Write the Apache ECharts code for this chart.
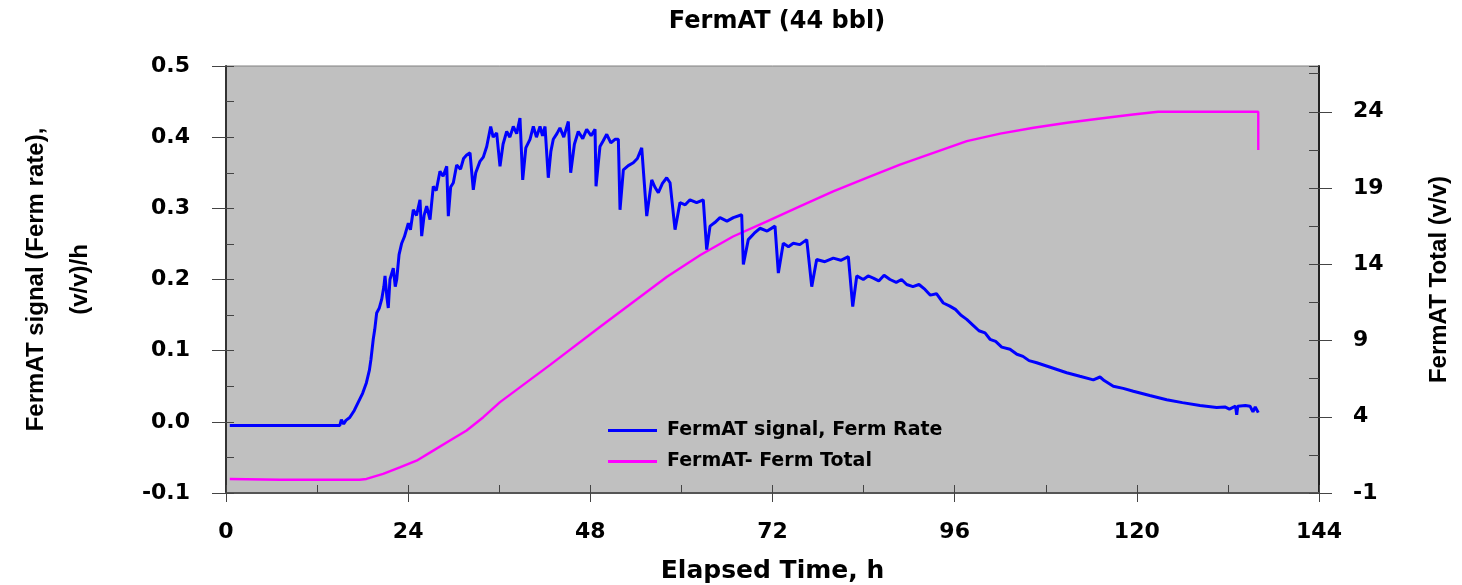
<!DOCTYPE html>
<html>
<head>
<meta charset="utf-8">
<script src="https://cdn.jsdelivr.net/npm/echarts@6/dist/echarts.min.js"></script>
<style>
html,body{margin:0;padding:0;background:#fff;}
#chart{width:1462px;height:585px;}
</style>
</head>
<body>
<div id="chart"></div>
<script>
// ---- Data (hours, value) ----
var chartTitle = 'FermAT (44 bbl)';
var xTitle = 'Elapsed Time, h';
var leftTitle = 'FermAT signal (Ferm rate),\n(v/v)/h';
var rightTitle = 'FermAT Total (v/v)';
var rateName = 'FermAT signal, Ferm Rate';
var totalName = 'FermAT- Ferm Total';

var xTicks = [0, 24, 48, 72, 96, 120, 144];
var leftTicks = [-0.1, 0, 0.1, 0.2, 0.3, 0.4, 0.5];
var rightTicks = [-1, 4, 9, 14, 19, 24];

var fermRate = [
 [0.5,-0.005],[15.0,-0.005],[15.2,0.003],[15.5,-0.003],[15.8,0.002],[16.3,0.006],[16.9,0.016],[17.4,0.027],
 [18.0,0.04],[18.5,0.055],[18.9,0.073],[19.1,0.088],[19.4,0.116],[19.6,0.13],[19.85,0.153],[20.2,0.16],
 [20.51,0.172],[20.8,0.19],[20.95,0.205],[21.2,0.175],[21.38,0.16],[21.6,0.2],[22.04,0.216],[22.3,0.19],
 [22.49,0.2],[22.8,0.235],[23.15,0.251],[23.5,0.26],[24.02,0.279],[24.3,0.27],[24.68,0.298],[25.1,0.29],
 [25.56,0.312],[25.78,0.261],[26.1,0.29],[26.44,0.303],[26.88,0.284],[27.31,0.331],[27.7,0.325],[28.19,0.352],
 [28.6,0.345],[29.08,0.359],[29.29,0.289],[29.6,0.33],[29.95,0.336],[30.39,0.361],[30.9,0.355],[31.3,0.37],
 [31.71,0.375],[32.15,0.378],[32.58,0.326],[32.9,0.35],[33.46,0.366],[33.9,0.372],[34.35,0.387],[34.87,0.415],
 [35.2,0.4],[35.66,0.406],[36.1,0.359],[36.5,0.39],[36.98,0.408],[37.4,0.4],[37.85,0.415],[38.3,0.405],
 [38.73,0.427],[39.09,0.34],[39.5,0.385],[40.05,0.397],[40.49,0.415],[40.9,0.4],[41.37,0.415],[41.7,0.402],
 [42.03,0.415],[42.46,0.343],[42.8,0.38],[43.12,0.397],[43.6,0.405],[44.0,0.413],[44.5,0.4],[45.1,0.422],
 [45.41,0.35],[45.9,0.39],[46.41,0.408],[47.0,0.398],[47.52,0.411],[48.1,0.402],[48.62,0.411],[48.75,0.331],
 [49.27,0.387],[49.7,0.395],[50.16,0.404],[50.7,0.392],[51.25,0.397],[51.69,0.397],[51.91,0.298],[52.35,0.354],
 [53.0,0.36],[53.66,0.364],[54.2,0.37],[54.77,0.385],[55.43,0.289],[56.09,0.34],[56.5,0.33],[56.96,0.322],
 [57.5,0.335],[58.06,0.343],[58.5,0.336],[59.16,0.27],[59.81,0.308],[60.5,0.305],[61.13,0.312],[62.0,0.308],
 [62.88,0.312],[63.33,0.242],[63.77,0.275],[64.4,0.28],[65.08,0.287],[66.0,0.282],[66.84,0.287],[67.94,0.291],
 [68.16,0.221],[68.81,0.256],[69.6,0.265],[70.35,0.272],[71.3,0.268],[72.33,0.275],[72.77,0.209],[73.42,0.251],
 [74.1,0.246],[74.74,0.251],[75.6,0.249],[76.51,0.256],[77.17,0.19],[77.82,0.228],[78.9,0.225],[80.01,0.23],
 [81.0,0.227],[81.99,0.232],[82.57,0.162],[83.1,0.205],[83.96,0.2],[84.6,0.205],[85.28,0.202],[86.0,0.198],
 [86.7,0.206],[87.48,0.2],[88.3,0.196],[89.0,0.2],[89.68,0.193],[90.5,0.19],[91.3,0.193],[92.09,0.186],
 [92.8,0.178],[93.6,0.18],[94.5,0.167],[95.3,0.163],[96.1,0.158],[96.8,0.15],[97.59,0.144],[98.4,0.136],
 [99.2,0.128],[100.0,0.125],[100.66,0.116],[101.4,0.113],[102.2,0.105],[103.29,0.102],[104.2,0.095],[105.0,0.092],
 [105.8,0.086],[106.81,0.083],[108.5,0.077],[110.76,0.069],[112.5,0.064],[114.27,0.059],[115.15,0.063],[115.7,0.058],
 [116.9,0.05],[118.2,0.047],[119.54,0.043],[121.7,0.037],[123.93,0.031],[126.0,0.027],[128.32,0.023],[130.52,0.02],
 [131.6,0.021],[132.2,0.018],[133.0,0.022],[133.16,0.01],[133.3,0.022],[134.3,0.023],[134.91,0.022],[135.3,0.014],
 [135.6,0.021],[136.0,0.013]
];

var fermTotal = [
 [0.5,-0.08],[7.1,-0.13],[17.6,-0.13],[18.5,-0.08],[20.7,0.25],[22.9,0.68],[25.1,1.12],[27.3,1.78],
 [29.5,2.44],[31.7,3.1],[33.9,3.97],[36.1,4.96],[42.7,7.4],[49.3,9.9],[53.7,11.54],[58.1,13.18],
 [62.5,14.61],[66.8,15.82],[71.2,16.8],[75.6,17.79],[80.0,18.78],[84.4,19.66],[88.8,20.53],[93.2,21.3],
 [97.6,22.07],[102.0,22.57],[106.4,22.95],[110.8,23.28],[115.2,23.56],[119.5,23.82],[122.8,24.0],[136.0,24.0],
 [136.0,21.5]
];

// ---- Chart ----
var HFONT = '"DejaVu Sans", "Liberation Sans", Arial, sans-serif';
var VFONT = '"Liberation Sans", Arial, sans-serif';
var chart = echarts.init(document.getElementById('chart'), null, {renderer: 'canvas'});

var xMin = xTicks[0], xMax = xTicks[xTicks.length - 1];
var lMin = leftTicks[0], lMax = leftTicks[leftTicks.length - 1];
var rMin = rightTicks[0], rMax = 27;

function overlayAxis(base) {
  return Object.assign({
    type: 'value',
    axisLine: {show: false, onZero: false},
    axisLabel: {show: false},
    splitLine: {show: false},
    axisTick: {show: true, inside: true, length: 8, lineStyle: {color: '#444', width: 1}}
  }, base);
}

var option = {
  animation: false,
  backgroundColor: '#ffffff',
  title: {
    text: chartTitle,
    left: 772, top: 5, textAlign: 'center',
    textStyle: {fontFamily: HFONT, fontWeight: 'bold', fontSize: 24, color: '#000'}
  },
  grid: {
    left: 226, right: 143, top: 66, bottom: 92,
    show: true, backgroundColor: '#c0c0c0', borderColor: '#808080', borderWidth: 1,
    containLabel: false, outerBoundsMode: 'none'
  },
  legend: {
    left: 608, top: 421, orient: 'vertical', padding: 0,
    icon: 'rect', itemWidth: 49, itemHeight: 3, itemGap: 12,
    textStyle: {fontFamily: HFONT, fontWeight: 'bold', fontSize: 19, lineHeight: 19, color: '#000', padding: [0, 0, 0, 5]},
    data: [rateName, totalName]
  },
  xAxis: [
    {
      type: 'value', min: xMin, max: xMax, interval: 24, position: 'bottom',
      name: xTitle, nameLocation: 'middle', nameGap: 66,
      nameTextStyle: {fontFamily: HFONT, fontWeight: 'bold', fontSize: 25, color: '#000'},
      axisLine: {show: true, onZero: false, lineStyle: {color: '#555', width: 2}},
      axisTick: {show: true, inside: false, length: 9, lineStyle: {color: '#444', width: 1}},
      axisLabel: {margin: 28, fontFamily: HFONT, fontWeight: 'bold', fontSize: 22, color: '#000'},
      splitLine: {show: false}
    },
    overlayAxis({min: xMin, max: xMax, interval: 12, position: 'bottom'})
  ],
  yAxis: [
    {
      type: 'value', min: lMin, max: lMax, interval: 0.1, position: 'left',
      name: leftTitle, nameLocation: 'middle', nameGap: 124, nameRotate: 90,
      nameTextStyle: {fontFamily: VFONT, fontWeight: 'bold', fontSize: 24, lineHeight: 44, color: '#000', align: 'center'},
      axisLine: {show: true, onZero: false, lineStyle: {color: '#333', width: 2}},
      axisTick: {show: true, inside: false, length: 14, lineStyle: {color: '#444', width: 1}},
      axisLabel: {margin: 36, fontFamily: HFONT, fontWeight: 'bold', fontSize: 22, color: '#000',
        formatter: function (v) { return v.toFixed(1); }},
      splitLine: {show: false}
    },
    {
      type: 'value', min: rMin, max: rMax, position: 'right',
      name: rightTitle, nameLocation: 'middle', nameGap: 108, nameRotate: 90,
      nameTextStyle: {fontFamily: VFONT, fontWeight: 'bold', fontSize: 24, color: '#000'},
      axisLine: {show: true, onZero: false, lineStyle: {color: '#222', width: 2}},
      axisTick: {show: true, inside: false, length: 13, customValues: rightTicks, lineStyle: {color: '#444', width: 1}},
      axisLabel: {margin: 34, fontFamily: HFONT, fontWeight: 'bold', fontSize: 22, color: '#000',
        customValues: rightTicks},
      splitLine: {show: false}
    },
    overlayAxis({min: lMin, max: lMax, interval: 0.05, position: 'left'}),
    overlayAxis({min: rMin, max: rMax, interval: 2.5, position: 'right', axisTick: {show: true, inside: true, length: 10, lineStyle: {color: '#444', width: 1}}})
  ],
  series: [
    {
      name: rateName, type: 'line', xAxisIndex: 0, yAxisIndex: 0,
      data: fermRate, showSymbol: false, symbol: 'none',
      lineStyle: {color: '#0000ff', width: 3}, itemStyle: {color: '#0000ff'}, z: 3
    },
    {
      name: totalName, type: 'line', xAxisIndex: 0, yAxisIndex: 1,
      data: fermTotal, showSymbol: false, symbol: 'none',
      lineStyle: {color: '#ff00ff', width: 2.4}, itemStyle: {color: '#ff00ff'}, z: 2
    }
  ]
};
chart.setOption(option);
</script>
</body>
</html>
